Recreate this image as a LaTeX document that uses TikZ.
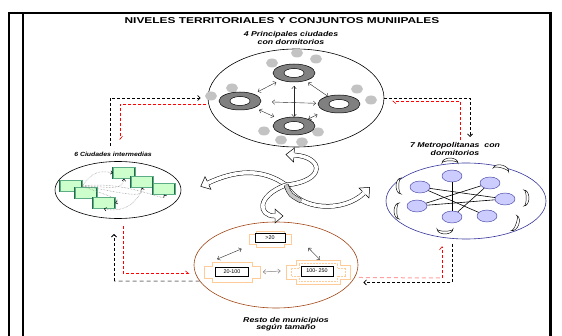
\documentclass[tikz,border=0pt]{standalone}
\usepackage{graphicx}
\usepackage{fontspec}
\setmainfont{Liberation Sans}
\usetikzlibrary{shapes.geometric,arrows.meta,positioning}

\definecolor{ringgray}{RGB}{128,128,128}
\definecolor{dotgray}{RGB}{195,195,195}
\definecolor{leaf}{RGB}{204,255,204}
\definecolor{leafedge}{RGB}{51,153,102}
\definecolor{lilac}{RGB}{204,204,255}
\definecolor{navyline}{RGB}{51,51,153}
\definecolor{rust}{RGB}{160,70,20}
\definecolor{peach}{RGB}{255,204,153}
\definecolor{rosy}{RGB}{255,160,160}

\newcommand{\widetxt}[1]{\scalebox{1.25}[1]{#1}}
% tabbed outline: style, centre, half width, half height, tab, tab half height
\newcommand{\tabshape}[6]{%
  \draw[#1] (#2) ++(-#3,-#4) -- ++(2*#3,0) -- ++(0,#4-#6) -- ++(#5,0) -- ++(0,2*#6)
    -- ++(-#5,0) -- ++(0,#4-#6) -- ++(-2*#3,0) -- ++(0,#6-#4) -- ++(-#5,0)
    -- ++(0,-2*#6) -- ++(#5,0) -- cycle;}

\tikzset{
  lbl/.style={font=\fontsize{7}{7.6}\selectfont\bfseries\itshape, align=center, inner sep=0pt},
  zone/.style={ellipse, draw, line width=0.6pt, inner sep=0pt},
  ring/.style={ellipse, draw, fill=ringgray, line width=0.5pt, minimum width=42pt, minimum height=18pt, inner sep=0pt},
  hole/.style={ellipse, draw, fill=white, line width=0.5pt, minimum width=20pt, minimum height=9pt, inner sep=0pt},
  spot/.style={ellipse, fill=dotgray, minimum width=12pt, minimum height=9pt, inner sep=0pt},
  link/.style={<->, >={Straight Barb[length=2.5pt,width=4.5pt]}, line width=0.4pt, black!85},
  gbox/.style={rectangle, draw=leafedge!70!black, double=leafedge!80, double distance=1pt, line width=0.4pt, fill=leaf, minimum width=22pt, minimum height=11pt, inner sep=0pt},
  dotlink/.style={densely dotted, gray, line width=0.5pt, ->, >={Straight Barb[length=2pt,width=3.5pt,color=black]}},
  mnode/.style={ellipse, draw=navyline, fill=lilac, line width=0.4pt, minimum width=20pt, minimum height=12pt, inner sep=0pt},
  tie/.style={line width=0.6pt, black},
  cres/.pic={\filldraw[fill=white, draw=black, line width=0.45pt] (-8pt,0pt) arc[start angle=180, end angle=0, x radius=8pt, y radius=5pt] arc[start angle=0, end angle=180, x radius=8pt, y radius=2.2pt] -- cycle;},
  peachline/.style={peach, line width=0.8pt},
  peachdots/.style={peach, densely dotted, line width=0.5pt},
  tag/.style={rectangle, draw=black, fill=white, line width=0.7pt, font=\fontsize{5.4}{5.4}\selectfont, inner sep=0pt, minimum height=9pt},
  grayarr/.style={<->, >={Straight Barb[length=2.5pt,width=4.5pt]}, line width=0.5pt, gray},
  blkdash/.style={black, line width=0.8pt, dash pattern=on 3pt off 2pt, arrows=-{Straight Barb[length=2.5pt,width=5pt]}},
  reddash/.style={red, line width=0.6pt, dash pattern=on 3pt off 2pt, arrows=-{Straight Barb[left,length=3pt,width=5pt]}},
  graydash/.style={gray, line width=1pt, dash pattern=on 4pt off 3pt},
  rosydash/.style={rosy, line width=1pt, dash pattern=on 4pt off 3pt},
  shaft/.style={draw=black, line width=0.5pt, double=white, double distance=3.6pt},
  bhead/.pic={\fill[white] (0pt,7pt) -- (8pt,0pt) -- (0pt,-7pt) -- cycle;
    \draw[line width=0.5pt] (0pt,2.3pt) -- (0pt,7pt) -- (8pt,0pt) -- (0pt,-7pt) -- (0pt,-2.3pt);},
}

\begin{document}
\begin{tikzpicture}[x=1pt, y=-1pt]
    \useasboundingbox (0,0) rectangle (562,336);
    % Frame
    \draw[line width=2pt] (9,336) -- (9,13) -- (550,13);
    \draw[line width=3pt] (550,12) -- (550,336);
    \draw[line width=2pt] (23,14) -- (23,336);
    \node[font=\fontsize{8.5}{8.5}\selectfont\bfseries, inner sep=0pt] (titulo) at (282,21) {\scalebox{1.4}[1]{NIVELES TERRITORIALES Y CONJUNTOS MUNIIPALES}};

    % Main cities (top)
    \node[lbl] (lcap) at (291,38) {\widetxt{4 Principales ciudades}\\\widetxt{con dormitorios}};
    \node[zone, minimum width=176pt, minimum height=98pt] (capitales) at (296,98) {};
    \foreach \x/\y [count=\k] in {297/53,316/59,272/63,232/88,211/96,357/89,371/100,264/131,318/132,281/140,302/142} {
        \node[spot] (d\k) at (\x,\y) {};
    }
    \foreach \n/\x/\y in {ct/294/73, cl/240/101, cr/339/104, cb/294/126} {
        \node[ring] (\n) at (\x,\y) {};
        \node[hole] (\n h) at (\x,\y) {};
    }
    \draw[link, shorten <=20pt, shorten >=20pt] (cl.center) -- (ct.center);
    \draw[link, shorten <=17pt, shorten >=13pt] (ct.center) -- (cr.center);
    \draw[link, shorten <=21pt, shorten >=22pt] (cl.center) -- (cb.center);
    \draw[link, shorten <=16pt, shorten >=24pt] (cb.center) -- (cr.center);
    \draw[link, shorten <=13pt, shorten >=9pt] (ct.center) -- (cb.center);
    \draw[link, shorten <=32pt, shorten >=23pt] (cl.center) -- (cr.center);

    % Intermediate cities (left)
    \node[lbl, font=\fontsize{6}{6}\selectfont\bfseries\itshape] (linter) at (113,154) {\scalebox{1.15}[1]{6 Ciudades intermedias}};
    \node[zone, minimum width=126pt, minimum height=57pt] (inter) at (118,190) {};
    \foreach \n/\x/\y in {g1/124/173, g2/142/182, g3/71/186, g4/86/193, g5/164/189, g6/104/203} {
        \node[gbox] (\n) at (\x,\y) {};
    }
    \draw[dotlink] (g3.east) .. controls (92,172) and (100,170) .. (g1.west);
    \draw[dotlink] (g3.east) .. controls (105,186) and (123,192) .. (g1.south);
    \draw[dotlink] (g3.east) .. controls (120,192) and (145,200) .. (g2.south);
    \draw[dotlink] (g3.east) .. controls (130,180) and (170,205) .. (g5.south);
    \draw[dotlink] (g2.south) .. controls (140,200) and (125,214) .. (g6.south);
    \draw[dotlink] (g3.east) .. controls (105,195) and (125,200) .. (g6.east);

    % Metropolitan areas (right)
    \node[lbl] (lmetro) at (455,149) {\widetxt{7 Metropolitanas\ \ con}\\\widetxt{dormitorios}};
    \node[zone, draw=navyline, minimum width=160pt, minimum height=76pt] (metro) at (466,201) {};
    \foreach \n/\x/\y in {m1/452/176, m2/420/187, m3/490/183, m4/505/199, m5/417/206, m6/452/217, m7/487/216} {
        \node[mnode] (\n) at (\x,\y) {};
    }
    \foreach \a/\b in {m1/m6, m2/m7, m2/m4, m5/m3, m5/m4, m3/m6} {
        \draw[tie] (\a) -- (\b);
    }
    \pic at (450,163) {cres};
    \pic[rotate=-15] at (501,170) {cres};
    \pic[rotate=90] at (401,186) {cres};
    \pic[rotate=90] at (399,211) {cres};
    \pic[rotate=-90] at (524,198) {cres};
    \pic[rotate=-110] at (514,223) {cres};
    \pic[rotate=180] at (445,229) {cres};

    % Rest of municipalities (bottom)
    \node[zone, draw=rust, minimum width=164pt, minimum height=86pt] (resto) at (276,265) {};
    \tabshape{peachline}{270,239}{14}{8}{7}{5}
    \tabshape{peachline}{232,272}{20}{10}{8}{6}
    \tabshape{peachline}{318,272}{22}{12}{10}{7}
    \tabshape{peachdots}{318,272}{19}{9}{8}{4}
    \node[tag, minimum width=30pt] (b1) at (270,238) {>20};
    \node[tag, minimum width=33pt] (b2) at (232,272) {20-100};
    \node[tag, minimum width=32pt, minimum height=10pt] (b3) at (317,271) {100- 250};
    \draw[link] ([shift={(2pt,8pt)}]b2.north west) -- ([shift={(-13pt,-6pt)}]b1.south west);
    \draw[link] ([shift={(23pt,-5pt)}]b1.south east) -- ([shift={(3pt,6pt)}]b3.north);
    \draw[grayarr] ([xshift=14pt]b2.east) -- ([xshift=-20pt]b3.west);
    \node[lbl] (lresto) at (286,324) {\widetxt{Resto de municipios}\\\widetxt{según tamaño}};

    % Curved block arrows (centre)
    \coordinate (hub) at (286,185);
    \draw[shaft] (hub) .. controls (326,181) and (324,157) .. (294,155);
    \pic[rotate=176] at (294,155) {bhead};
    \draw[shaft] (hub) .. controls (262,168) and (236,170) .. (208,183);
    \pic[rotate=205] at (208,183) {bhead};
    \draw[shaft] (hub) .. controls (256,196) and (258,216) .. (275,216);
    \pic at (275,216) {bhead};
    \draw[shaft] (hub) .. controls (300,212) and (345,212) .. (364,193);
    \pic[rotate=45] at (364,193) {bhead};
    \draw[shaft, double=gray!45] (hub) .. controls (290,195) .. (301,201);

    % Dashed flows
    \coordinate (tlb) at (110,146);
    \coordinate (tlr) at (120,140);
    \coordinate (trb) at (470,137);
    \coordinate (trr) at (460,140);
    \draw[blkdash] (tlb) |- ([xshift=-7pt]capitales.west);
    \draw[reddash] ([xshift=-2pt]capitales.184.5) -| (tlr);
    \draw[blkdash] (capitales.east) -| (trb);
    \draw[reddash] (trr) |- ([xshift=8pt]capitales.-2.5);
    \coordinate (blc) at (114,281);
    \coordinate (blt) at (114,234);
    \coordinate (rlt) at (123,226);
    \draw[graydash] (resto.192) -- (blc);
    \draw[blkdash] (blc) -- (blt);
    \draw[reddash] (rlt) |- ([xshift=-6pt]resto.186.4);
    \coordinate (rbt) at (452,244);
    \coordinate (rrc) at (442,278);
    \coordinate (rrt) at (442,246);
    \draw[blkdash] (rbt) |- ([xshift=12pt]resto.-13.6);
    \draw[rosydash] ([xshift=4pt]resto.-9.4) -- (rrc);
    \draw[reddash] (rrc) -- (rrt);
\end{tikzpicture}
\end{document}
